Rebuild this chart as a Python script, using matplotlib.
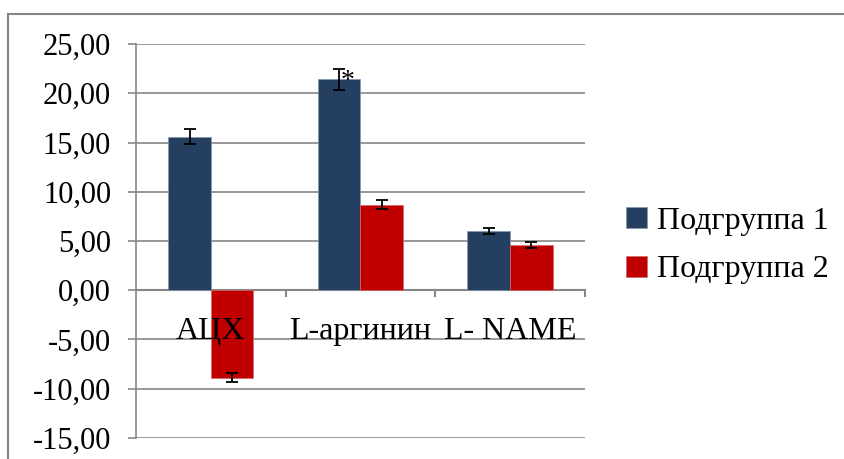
import numpy as np
import matplotlib.pyplot as plt
from matplotlib.patches import Rectangle

# data
categories = ['АЦХ', 'L-аргинин', 'L- NAME']
group1 = [15.6, 21.4, 6.0]
group1_err = [0.8, 1.1, 0.3]
group2 = [-8.9, 8.7, 4.6]
group2_err = [0.45, 0.45, 0.3]
series_names = ['Подгруппа 1', 'Подгруппа 2']
yticks = np.arange(-15, 26, 5)

plt.rcParams['font.family'] = 'serif'
plt.rcParams['font.serif'] = ['Liberation Serif', 'Times New Roman', 'DejaVu Serif']

fig = plt.figure(figsize=(8.45, 4.59), dpi=100)
ax = fig.add_axes([0.161, 0.0458, 0.531, 0.8583])

# chart frame
fig.patches.append(Rectangle((8 / 845, -0.1), 1.2, 1 - 14 / 459 + 0.1,
                             transform=fig.transFigure, fill=False,
                             edgecolor='#868686', linewidth=1.5))

x = np.arange(len(categories))
w = 0.285
ekw = dict(ecolor='black', elinewidth=1.3, capsize=4.5, capthick=1.3)
ax.bar(x - w / 2, group1, w, yerr=group1_err, color='#243F60',
       edgecolor='#8497B0', linewidth=0.5, label=series_names[0],
       error_kw=ekw, zorder=2)
ax.bar(x + w / 2, group2, w, yerr=group2_err, color='#C00000',
       edgecolor='#D46A6A', linewidth=0.5, label=series_names[1],
       error_kw=ekw, zorder=2)

# significance mark
ax.text(x[1] - w / 2 + 0.06, group1[1] - 0.2, '*', fontsize=20,
        ha='center', va='center', zorder=4)

ax.set_xlim(-0.5, 2.5)
ax.set_ylim(-15, 25)
ax.set_yticks(yticks)
ax.set_yticklabels([f'{v:.2f}'.replace('.', ',') for v in yticks], fontsize=22)
ax.yaxis.grid(True, color='#868686', linewidth=1.2, zorder=0)
ax.set_axisbelow(True)
ax.tick_params(axis='y', length=6, width=1.2, color='#868686', pad=12)

for s in ['top', 'right', 'bottom']:
    ax.spines[s].set_visible(False)
ax.spines['left'].set_color('#868686')
ax.spines['left'].set_linewidth(1.2)

# category axis at zero with ticks between groups
ax.axhline(0, color='#868686', linewidth=1.5, zorder=1)
ax.set_xticks([])
for b in [0.5, 1.5, 2.5]:
    ax.plot([b, b], [0, -0.55], color='#868686', linewidth=1.5,
            clip_on=False, zorder=1)
for i, c in enumerate(categories):
    ax.text(x[i], -4.2, c, fontsize=23, ha='center', va='center', zorder=5)

leg = fig.legend(loc='center left', bbox_to_anchor=(0.707, 0.465),
                 frameon=False, fontsize=23, handlelength=0.65,
                 handleheight=0.65, handletextpad=0.3, labelspacing=0.62)

fig.savefig('out.png', dpi=100)
